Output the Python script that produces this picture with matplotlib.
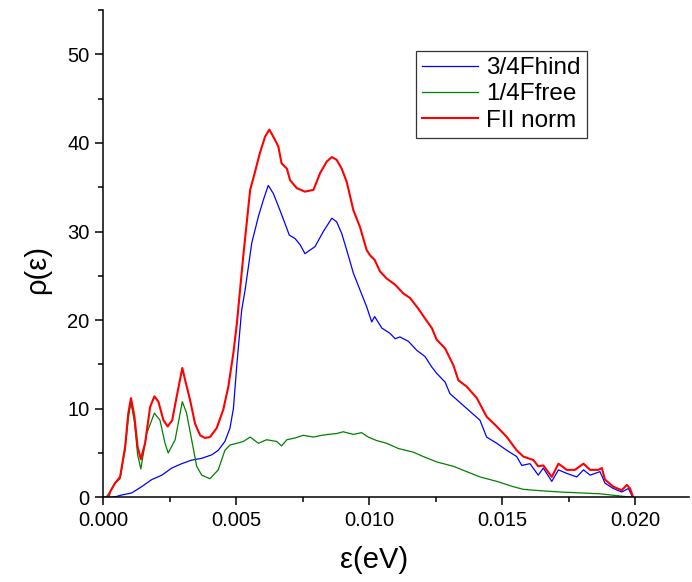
import matplotlib
matplotlib.use('Agg')
import matplotlib.pyplot as plt
from matplotlib.ticker import MultipleLocator, FormatStrFormatter

# ── DATA ──────────────────────────────────────────────────
# x in eV, y = rho(eps)
hind_x = [0.0, 0.0003, 0.0005, 0.00069, 0.00107, 0.00144, 0.00182, 0.0022, 0.00257,
          0.00295, 0.00332, 0.0037, 0.00408, 0.00432, 0.00457, 0.00476, 0.00489,
          0.00502, 0.0052, 0.00533, 0.00558, 0.00583, 0.00602, 0.0062, 0.00639,
          0.00664, 0.00683, 0.00699, 0.00721, 0.0074, 0.00758, 0.00796, 0.00827,
          0.00859, 0.00877, 0.00896, 0.00915, 0.0094, 0.00965, 0.0099, 0.01009,
          0.0102, 0.01047, 0.01078, 0.01097, 0.01115, 0.01147, 0.01178, 0.01209,
          0.01235, 0.01253, 0.01285, 0.01303, 0.01322, 0.01416, 0.01441, 0.01479,
          0.01517, 0.01554, 0.01573, 0.01604, 0.01635, 0.01654, 0.01686, 0.01711,
          0.01742, 0.0178, 0.01805, 0.0183, 0.01867, 0.01886, 0.01917, 0.01949,
          0.01974, 0.0199]
hind_y = [0.0, 0.0, 0.1, 0.26, 0.5, 1.2, 2.0, 2.5, 3.3,
          3.8, 4.2, 4.4, 4.8, 5.3, 6.3, 7.8, 10.0,
          15.0, 21.1, 23.4, 28.7, 31.7, 33.6, 35.2, 34.3,
          32.4, 30.9, 29.6, 29.2, 28.5, 27.5, 28.3, 30.0,
          31.5, 31.1, 29.8, 27.9, 25.3, 23.4, 21.5, 19.8,
          20.4, 19.1, 18.5, 17.9, 18.1, 17.6, 16.6, 15.9,
          14.7, 14.0, 13.0, 11.7, 11.2, 8.7, 6.8, 6.1,
          5.3, 4.6, 3.6, 3.8, 2.5, 3.3, 1.8, 3.1,
          2.7, 2.3, 3.1, 2.5, 2.9, 1.6, 1.0, 0.6,
          1.0, 0.0]

free_x = [0.0, 0.0001, 0.00025, 0.00044, 0.00063, 0.00082, 0.00094, 0.00104, 0.00117,
          0.00129, 0.00141, 0.00163, 0.00192, 0.00213, 0.00232, 0.00244, 0.0027,
          0.00297, 0.00313, 0.00332, 0.00351, 0.0037, 0.00401, 0.00432, 0.00457,
          0.00476, 0.00502, 0.00526, 0.00552, 0.00583, 0.00614, 0.00652, 0.0067,
          0.0069, 0.00721, 0.00752, 0.0079, 0.00821, 0.00846, 0.00877, 0.00902,
          0.0094, 0.00971, 0.00996, 0.01028, 0.01065, 0.0111, 0.01165, 0.01203,
          0.01253, 0.01316, 0.01366, 0.01416, 0.01479, 0.01541, 0.01579, 0.01642,
          0.01717, 0.01792, 0.01867, 0.01942, 0.0199]
free_y = [0.0, 0.0, 0.6, 1.6, 2.1, 5.4, 9.0, 10.7, 8.5,
          4.8, 3.2, 7.2, 9.5, 8.7, 6.1, 5.0, 6.5,
          10.8, 9.5, 6.5, 3.5, 2.5, 2.1, 3.1, 5.3,
          5.9, 6.1, 6.3, 6.8, 6.1, 6.5, 6.3, 5.8,
          6.5, 6.7, 7.0, 6.8, 7.0, 7.1, 7.2, 7.4,
          7.1, 7.3, 6.8, 6.4, 6.1, 5.5, 5.1, 4.6,
          4.0, 3.5, 2.9, 2.3, 1.8, 1.2, 0.9, 0.75,
          0.6, 0.5, 0.4, 0.15, 0.0]

norm_x = [0.0, 0.0002, 0.00025, 0.00044, 0.00063, 0.00082, 0.00094, 0.00104, 0.00117,
          0.00129, 0.00141, 0.00157, 0.00176, 0.00192, 0.00207, 0.00226, 0.00242,
          0.00259, 0.00276, 0.00297, 0.00307, 0.00326, 0.00345, 0.00364, 0.00382,
          0.00401, 0.00426, 0.00451, 0.0047, 0.00489, 0.00502, 0.00514, 0.00526,
          0.00552, 0.0057, 0.00589, 0.00608, 0.00624, 0.00639, 0.00658, 0.0067,
          0.0069, 0.00702, 0.00727, 0.00758, 0.0079, 0.00815, 0.0084, 0.00859,
          0.00877, 0.00896, 0.00915, 0.0094, 0.00965, 0.0099, 0.01003, 0.0102,
          0.0104, 0.01065, 0.01097, 0.01128, 0.01153, 0.01184, 0.01209, 0.01235,
          0.01253, 0.01285, 0.01316, 0.01335, 0.01366, 0.01404, 0.01441, 0.01479,
          0.01517, 0.01554, 0.01579, 0.01617, 0.01635, 0.01654, 0.01686, 0.01711,
          0.01742, 0.01773, 0.01805, 0.0183, 0.01861, 0.01874, 0.01886, 0.01917,
          0.01949, 0.01968, 0.0198, 0.01992]
norm_y = [0.0, 0.0, 0.6, 1.6, 2.3, 5.7, 9.5, 11.2, 9.1,
          5.7, 4.3, 6.1, 10.2, 11.4, 10.8, 8.7, 8.0,
          8.7, 11.4, 14.6, 13.3, 11.0, 8.3, 7.0, 6.7,
          6.8, 7.8, 9.9, 12.5, 16.3, 19.6, 23.4, 27.2,
          34.7, 36.7, 38.9, 40.7, 41.5, 40.7, 39.6, 37.7,
          37.1, 35.8, 34.9, 34.5, 34.7, 36.6, 37.9, 38.4,
          38.1, 37.1, 35.6, 32.4, 30.5, 27.9, 27.3, 26.8,
          25.5, 24.7, 24.0, 23.0, 22.5, 21.3, 20.2, 19.1,
          17.8, 16.8, 14.9, 13.2, 12.5, 11.2, 9.1, 8.0,
          6.8, 5.3, 4.6, 4.2, 3.5, 3.6, 2.3, 3.8,
          3.1, 3.1, 3.8, 3.1, 3.1, 3.3, 2.0, 1.2,
          0.8, 1.4, 1.0, 0.0]

labels = ['3/4Fhind', '1/4Ffree', 'FII norm']

# ── STYLE ─────────────────────────────────────────────────
plt.rcParams['font.family'] = ['Liberation Sans', 'DejaVu Sans']

fig = plt.figure(figsize=(6.92, 5.82), dpi=100, facecolor='white')
ax = fig.add_axes([0.1493, 0.1455, 0.8457, 0.8373])

ax.plot(hind_x, hind_y, color='#0000FF', linewidth=0.9, label=labels[0])
ax.plot(free_x, free_y, color='#008000', linewidth=0.9, label=labels[1])
ax.plot(norm_x, norm_y, color='#FF0000', linewidth=1.5, label=labels[2])

ax.set_xlim(0, 0.022)
ax.set_ylim(0, 55)
ax.xaxis.set_major_locator(MultipleLocator(0.005))
ax.xaxis.set_minor_locator(MultipleLocator(0.0025))
ax.xaxis.set_major_formatter(FormatStrFormatter('%.3f'))
ax.yaxis.set_major_locator(MultipleLocator(10))
ax.yaxis.set_minor_locator(MultipleLocator(5))

for s in ['top', 'right']:
    ax.spines[s].set_visible(False)
for s in ['left', 'bottom']:
    ax.spines[s].set_linewidth(1.1)
ax.tick_params(which='major', direction='out', length=6, width=1.1, labelsize=14.5, pad=4)
ax.tick_params(which='minor', direction='out', length=3.5, width=1.1)

ax.set_xlabel('ε(eV)', fontsize=21)
ax.set_ylabel('ρ(ε)', fontsize=21)
ax.xaxis.set_label_coords(0.463, -0.1)
ax.yaxis.set_label_coords(-0.09, 0.467)

leg = ax.legend(loc='upper left', bbox_to_anchor=(0.601, 0.912), bbox_transform=fig.transFigure,
                borderaxespad=0, fontsize=17.5, frameon=True, fancybox=False,
                handlelength=2.3, handletextpad=0.35, labelspacing=0.17, borderpad=0.25)
leg.get_frame().set_edgecolor('black')
leg.get_frame().set_linewidth(0.9)

fig.savefig('out.png', dpi=100, facecolor='white')
